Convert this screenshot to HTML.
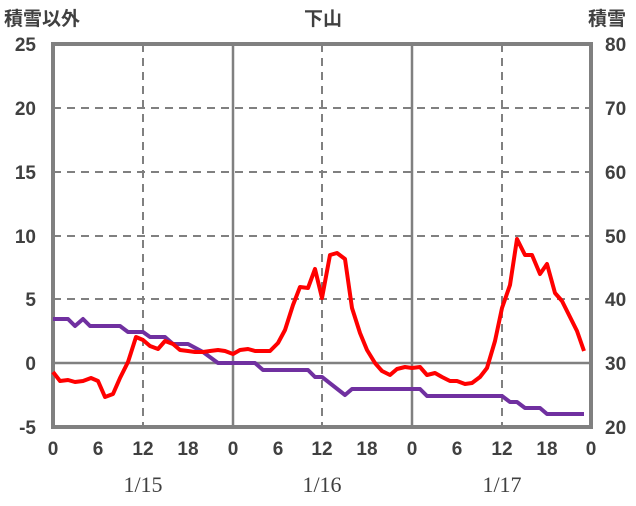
<!DOCTYPE html>
<html><head><meta charset="utf-8"><style>
body{margin:0;background:#fff}
svg text{font-family:"Liberation Sans","Noto Sans CJK JP",sans-serif;fill:#404040;font-size:19px;font-weight:bold}
svg text.d{font-weight:normal;font-family:"Liberation Serif",serif;font-size:22px}
</style></head><body>
<svg width="636" height="501" viewBox="0 0 636 501">
<g stroke="#808080" stroke-width="2" stroke-dasharray="8,6" fill="none">
<line x1="53" y1="108" x2="591" y2="108"/><line x1="53" y1="172" x2="591" y2="172"/>
<line x1="53" y1="236" x2="591" y2="236"/><line x1="53" y1="299" x2="591" y2="299"/>
<line x1="143" y1="44" x2="143" y2="427"/><line x1="322" y1="44" x2="322" y2="427"/><line x1="502" y1="44" x2="502" y2="427"/>
</g>
<g stroke="#808080" stroke-width="2.5">
<line x1="53" y1="363" x2="591" y2="363"/>
<line x1="233" y1="44" x2="233" y2="427"/><line x1="412" y1="44" x2="412" y2="427"/>
</g>
<rect x="53" y="44" width="538" height="383" fill="none" stroke="#808080" stroke-width="4"/>
<polyline fill="none" stroke="#7030a0" stroke-width="4" stroke-linejoin="round" points="53,319 68,319 75,326 83,319 90,326 120,326 128,332 143,332 150,337 165,337 173,344 188,344 203,352 218,363 255,363 263,370 308,370 315,377 322,377 345,395 352,389 420,389 427,396 502,396 510,402 517,402 525,408 540,408 547,414 584,414"/>
<polyline fill="none" stroke="#ff0000" stroke-width="4" stroke-linejoin="round" points="53,372 60,381 68,380 75,382 83,381 91,378 98,381 105,397 113,394 120,378 128,362 136,337 143,340 150,346 158,349 165,341 173,344 180,350 188,351 195,352 203,352 210,351 218,350 225,351 233,354 240,350 248,349 255,351 263,351 270,351 278,343 285,330 293,305 300,287 308,288 315,269 322,298 330,255 337,253 345,259 352,308 360,333 367,350 375,363 382,371 390,375 397,369 405,367 412,368 420,367 427,375 435,373 442,377 450,381 457,381 465,384 472,383 480,377 487,368 495,341 502,308 510,285 517,239 525,255 532,255 540,274 547,264 555,293 562,301 570,317 577,331 584,351"/>
<g text-anchor="end">
<text x="36" y="51">25</text><text x="36" y="115">20</text><text x="36" y="179">15</text>
<text x="36" y="243">10</text><text x="36" y="306">5</text><text x="36" y="370">0</text><text x="36" y="434">-5</text>
</g>
<g text-anchor="start">
<text x="605" y="51">80</text><text x="605" y="115">70</text><text x="605" y="179">60</text>
<text x="605" y="243">50</text><text x="605" y="306">40</text><text x="605" y="370">30</text><text x="605" y="434">20</text>
</g>
<g text-anchor="middle">
<text x="53" y="455">0</text><text x="98" y="455">6</text><text x="143" y="455">12</text><text x="188" y="455">18</text>
<text x="233" y="455">0</text><text x="278" y="455">6</text><text x="322" y="455">12</text><text x="367" y="455">18</text>
<text x="412" y="455">0</text><text x="457" y="455">6</text><text x="502" y="455">12</text><text x="547" y="455">18</text><text x="591" y="455">0</text>
<text class="d" x="143" y="492">1/15</text><text class="d" x="322" y="492">1/16</text><text class="d" x="502" y="492">1/17</text>
<text x="323" y="25">下山</text>
</g>
<text x="4" y="25">積雪以外</text>
<text x="588" y="25">積雪</text>
</svg>
</body></html>
